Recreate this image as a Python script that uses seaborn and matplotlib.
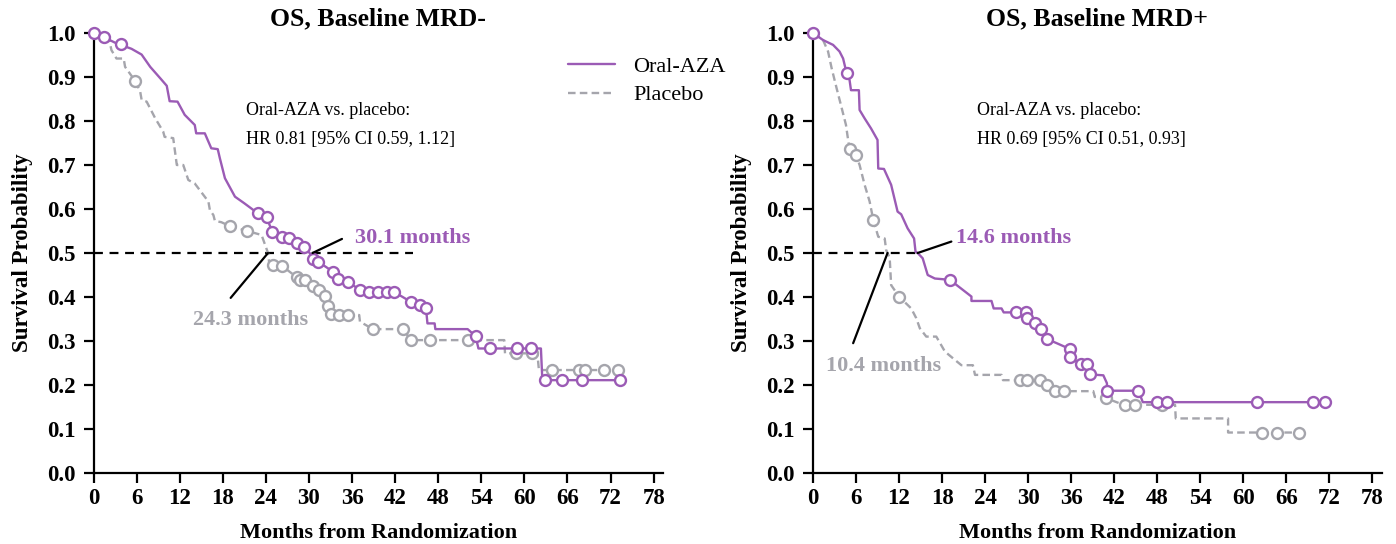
import numpy as np
import pandas as pd
import matplotlib
matplotlib.use("Agg")
import matplotlib.pyplot as plt
from matplotlib.lines import Line2D
import seaborn as sns

# ---------------- data ----------------
# Left panel: OS, Baseline MRD-
neg_aza_t = [0, 1.5, 3.0, 5.3, 6.7, 7.9, 9.3, 10.2, 10.6, 11.7, 12.7, 14.1, 14.3, 15.5, 16.4, 17.3, 17.6,
             18.3, 19.7, 21.0, 22.9, 24.1, 24.9, 26.2, 27.2, 28.4, 29.3, 30.1, 30.6, 31.3, 33.4, 34.0, 35.4,
             37.1, 38.4, 41.8, 44.2, 45.4, 46.3, 46.5, 47.5, 47.6, 52.1, 53.2, 53.6, 62.3, 62.5, 73.3]
neg_aza_s = [1.0, 0.99, 0.978, 0.964, 0.951, 0.923, 0.897, 0.88, 0.845, 0.844, 0.814, 0.791, 0.772, 0.772,
             0.738, 0.736, 0.715, 0.67, 0.628, 0.613, 0.59, 0.581, 0.548, 0.537, 0.533, 0.523, 0.513, 0.5,
             0.486, 0.48, 0.457, 0.44, 0.435, 0.416, 0.412, 0.412, 0.389, 0.382, 0.374, 0.34, 0.34, 0.327,
             0.327, 0.311, 0.283, 0.283, 0.211, 0.211]
neg_aza_cens_t = [0, 1.5, 3.8, 22.9, 24.1, 24.9, 26.2, 27.2, 28.4, 29.3, 30.6, 31.3, 33.4, 34.0, 35.4, 37.1,
                  38.4, 39.6, 40.8, 41.8, 44.2, 45.4, 46.3, 53.2, 55.2, 59.0, 60.9, 62.9, 65.2, 68.0, 73.3]
neg_aza_cens_s = [1.0, 0.99, 0.975, 0.59, 0.581, 0.548, 0.537, 0.533, 0.523, 0.513, 0.486, 0.48, 0.457, 0.44,
                  0.435, 0.416, 0.412, 0.412, 0.412, 0.412, 0.389, 0.382, 0.374, 0.311, 0.283, 0.283, 0.283,
                  0.211, 0.211, 0.211, 0.211]

neg_pbo_t = [0, 2.2, 2.5, 3.2, 4.2, 4.4, 5.8, 6.5, 6.7, 7.4, 8.6, 9.7, 9.9, 11.1, 11.6, 12.5, 13.2, 14.1,
             15.3, 16.0, 16.2, 16.7, 16.9, 17.8, 19.0, 21.4, 23.4, 24.3, 24.5, 26.3, 28.3, 28.8, 29.4, 30.5,
             31.4, 32.3, 32.6, 33.1, 35.4, 37.0, 37.1, 38.9, 43.1, 44.2, 57.2, 57.3, 61.8, 62.0, 62.5, 73.1]
neg_pbo_s = [1.0, 0.984, 0.961, 0.942, 0.942, 0.923, 0.891, 0.867, 0.848, 0.844, 0.806, 0.776, 0.764, 0.761,
             0.70, 0.70, 0.666, 0.658, 0.632, 0.617, 0.598, 0.586, 0.573, 0.570, 0.561, 0.55, 0.541, 0.5,
             0.473, 0.47, 0.445, 0.439, 0.439, 0.424, 0.416, 0.402, 0.38, 0.361, 0.359, 0.359, 0.344, 0.327,
             0.327, 0.302, 0.302, 0.272, 0.272, 0.238, 0.234, 0.234]
neg_pbo_cens_t = [5.8, 19.0, 21.4, 25.0, 26.3, 28.3, 28.8, 29.4, 30.5, 31.4, 32.3, 32.6, 33.1, 34.2, 35.4,
                  38.9, 43.1, 44.2, 46.8, 52.2, 58.8, 61.1, 63.9, 67.6, 68.5, 71.1, 73.1]
neg_pbo_cens_s = [0.891, 0.561, 0.55, 0.473, 0.47, 0.445, 0.439, 0.439, 0.424, 0.416, 0.402, 0.38, 0.361,
                  0.359, 0.359, 0.327, 0.327, 0.302, 0.302, 0.302, 0.272, 0.272, 0.234, 0.234, 0.234, 0.234,
                  0.234]

# Right panel: OS, Baseline MRD+
pos_aza_t = [0, 1.4, 2.8, 3.7, 4.2, 4.7, 5.1, 5.3, 6.4, 6.5, 7.2, 8.1, 9.0, 9.1, 9.9, 10.9, 11.8, 12.3,
             13.2, 14.1, 14.3, 14.6, 15.3, 16.0, 17.0, 19.1, 22.1, 22.1, 24.9, 25.2, 26.3, 26.6, 29.7, 29.8,
             31.0, 31.8, 32.7, 34.0, 35.8, 35.8, 37.4, 38.2, 38.7, 40.5, 41.0, 41.0, 45.4, 46.0, 71.4]
pos_aza_s = [1.0, 0.984, 0.973, 0.958, 0.942, 0.908, 0.893, 0.87, 0.87, 0.825, 0.806, 0.783, 0.757, 0.692,
             0.691, 0.655, 0.594, 0.588, 0.556, 0.533, 0.503, 0.5, 0.488, 0.45, 0.442, 0.439, 0.401, 0.391,
             0.391, 0.374, 0.374, 0.365, 0.365, 0.352, 0.342, 0.328, 0.304, 0.295, 0.282, 0.263, 0.247,
             0.247, 0.224, 0.222, 0.204, 0.187, 0.187, 0.161, 0.161]
pos_aza_cens_t = [0, 4.7, 19.1, 28.3, 29.7, 29.8, 31.0, 31.8, 32.7, 35.8, 35.8, 37.4, 38.2, 38.7, 41.0, 45.4,
                  48.0, 49.4, 62.0, 69.7, 71.4]
pos_aza_cens_s = [1.0, 0.908, 0.439, 0.365, 0.365, 0.352, 0.342, 0.328, 0.304, 0.282, 0.263, 0.247, 0.247,
                  0.224, 0.187, 0.187, 0.161, 0.161, 0.161, 0.161, 0.161]

pos_pbo_t = [0, 1.4, 2.1, 2.6, 3.3, 3.9, 4.6, 4.8, 5.1, 6.0, 6.5, 7.2, 7.9, 8.4, 9.1, 10.0, 10.2, 10.4,
             10.7, 10.9, 12.0, 13.7, 14.4, 14.9, 15.8, 17.2, 18.4, 19.8, 20.7, 22.3, 22.6, 26.3, 26.5, 31.7,
             32.7, 33.8, 39.1, 39.3, 40.9, 43.3, 50.5, 50.6, 57.9, 57.9, 67.8]
pos_pbo_s = [1.0, 0.984, 0.958, 0.92, 0.874, 0.836, 0.791, 0.768, 0.736, 0.723, 0.70, 0.655, 0.617, 0.576,
             0.537, 0.533, 0.507, 0.5, 0.488, 0.427, 0.401, 0.374, 0.352, 0.329, 0.31, 0.31, 0.276, 0.257,
             0.245, 0.245, 0.223, 0.223, 0.211, 0.211, 0.2, 0.186, 0.186, 0.173, 0.17, 0.155, 0.155, 0.124,
             0.124, 0.092, 0.092]
pos_pbo_cens_t = [5.1, 6.0, 8.4, 12.0, 28.9, 29.8, 31.7, 32.7, 33.8, 35.0, 40.9, 43.5, 44.9, 48.7, 62.7,
                  64.7, 67.8]
pos_pbo_cens_s = [0.736, 0.723, 0.576, 0.401, 0.211, 0.211, 0.211, 0.2, 0.186, 0.186, 0.17, 0.155, 0.155,
                  0.155, 0.092, 0.092, 0.092]

arms = ["Oral-AZA", "Placebo"]
titles = ["OS, Baseline MRD-", "OS, Baseline MRD+"]
hr_texts = ["Oral-AZA vs. placebo:\nHR 0.81 [95% CI 0.59, 1.12]",
            "Oral-AZA vs. placebo:\nHR 0.69 [95% CI 0.51, 0.93]"]
medians_aza = [30.1, 14.6]
medians_pbo = [24.3, 10.4]
x_ticks = list(range(0, 79, 6))
y_ticks = [round(0.1 * i, 1) for i in range(11)]

# ---------------- style ----------------
sns.set_theme(style="ticks")
plt.rcParams['font.family'] = ['Liberation Serif', 'DejaVu Serif']
plt.rcParams['axes.linewidth'] = 1.6
for key in ("text.color", "axes.labelcolor", "xtick.color", "ytick.color", "axes.edgecolor"):
    plt.rcParams[key] = "black"

PURPLE = "#9b5bb5"
GRAY = "#a5a5ac"
palette = {"Oral-AZA": PURPLE, "Placebo": GRAY}
DASH = (3.2, 1.8)

fig = plt.figure(figsize=(13.96, 5.44), dpi=100)
W, H = 1396, 544
ax_l = fig.add_axes([93.5 / W, 1 - 473 / H, (663 - 93.5) / W, 440 / H])
ax_r = fig.add_axes([813 / W, 1 - 473 / H, (1381.5 - 813) / W, 440 / H])

panels = [
    (ax_l, (neg_aza_t, neg_aza_s, neg_aza_cens_t, neg_aza_cens_s),
     (neg_pbo_t, neg_pbo_s, neg_pbo_cens_t, neg_pbo_cens_s)),
    (ax_r, (pos_aza_t, pos_aza_s, pos_aza_cens_t, pos_aza_cens_s),
     (pos_pbo_t, pos_pbo_s, pos_pbo_cens_t, pos_pbo_cens_s)),
]

for i, (ax, aza, pbo) in enumerate(panels):
    curves = pd.concat([
        pd.DataFrame({"month": pbo[0], "surv": pbo[1], "arm": "Placebo"}),
        pd.DataFrame({"month": aza[0], "surv": aza[1], "arm": "Oral-AZA"}),
    ], ignore_index=True)
    sns.lineplot(data=curves, x="month", y="surv", hue="arm", style="arm", sort=False, estimator=None,
                 palette=palette, dashes={"Oral-AZA": "", "Placebo": DASH}, linewidth=1.7,
                 legend=False, ax=ax, clip_on=False, zorder=3)
    for arm, d in (("Placebo", pbo), ("Oral-AZA", aza)):
        sns.scatterplot(x=d[2], y=d[3], marker="o", s=62, facecolor="white", edgecolor=palette[arm],
                        linewidth=1.7, ax=ax, clip_on=False, zorder=4, legend=False)

    ax.set_xlim(0, 79.3)
    ax.set_ylim(0, 1.0)
    ax.set_xticks(x_ticks)
    ax.set_yticks(y_ticks)
    ax.set_yticklabels([f"{v:.1f}" for v in y_ticks])
    ax.tick_params(axis="both", direction="out", length=7, width=1.6, labelsize=16.5,
                   color="black", labelcolor="black")
    ax.tick_params(axis="y", pad=6)
    ax.tick_params(axis="x", pad=4)
    for lab in ax.get_xticklabels() + ax.get_yticklabels():
        lab.set_fontweight("bold")
    sns.despine(ax=ax)
    for sp in ("left", "bottom"):
        ax.spines[sp].set_color("black")
    ax.set_xlabel("Months from Randomization", fontsize=16, fontweight="bold", labelpad=10, color="black")
    ax.set_ylabel("Survival Probability", fontsize=16.5, fontweight="bold", labelpad=10, color="black")
    ax.text(0.5, 1.032, titles[i], transform=ax.transAxes, fontsize=18.5, fontweight="bold",
            ha="center", va="center", color="black")
    ax.text(21.3 if i == 0 else 22.9, 0.791, hr_texts[i], fontsize=13, va="center", ha="left",
            linespacing=1.9, color="black")

# median reference lines & labels
ax_l.plot([0, 44.5], [0.5, 0.5], color="black", lw=1.6, ls=(0, (4, 3)), zorder=2)
ax_l.plot([medians_aza[0] + 0.4, 34.6], [0.5, 0.532], color="black", lw=1.6, zorder=5)
ax_l.text(36.4, 0.535, f"{medians_aza[0]} months", color=PURPLE, fontsize=16, fontweight="bold",
          va="center", ha="left")
ax_l.plot([medians_pbo[0], 19.1], [0.5, 0.398], color="black", lw=1.6, zorder=5)
ax_l.text(13.9, 0.348, f"{medians_pbo[0]} months", color=GRAY, fontsize=16, fontweight="bold",
          va="center", ha="left")

ax_r.plot([0, medians_aza[1]], [0.5, 0.5], color="black", lw=1.6, ls=(0, (4, 3)), zorder=2)
ax_r.plot([medians_aza[1], 19.3], [0.5, 0.526], color="black", lw=1.6, zorder=5)
ax_r.text(19.9, 0.533, f"{medians_aza[1]} months", color=PURPLE, fontsize=16, fontweight="bold",
          va="center", ha="left")
ax_r.plot([medians_pbo[1], 5.6], [0.5, 0.295], color="black", lw=1.6, zorder=5)
ax_r.text(1.8, 0.243, f"{medians_pbo[1]} months", color=GRAY, fontsize=16, fontweight="bold",
          va="center", ha="left")

# legend
handles = [Line2D([], [], color=PURPLE, lw=1.7), Line2D([], [], color=GRAY, lw=1.7, ls=(0, DASH))]
fig.legend(handles, arms, loc="upper left", bbox_to_anchor=(564 / W, 1 - 52 / H), frameon=False,
           fontsize=16, handlelength=2.1, handletextpad=0.8, labelspacing=0.35, borderaxespad=0,
           borderpad=0.2, labelcolor="black")

fig.savefig("out.png", dpi=100)
